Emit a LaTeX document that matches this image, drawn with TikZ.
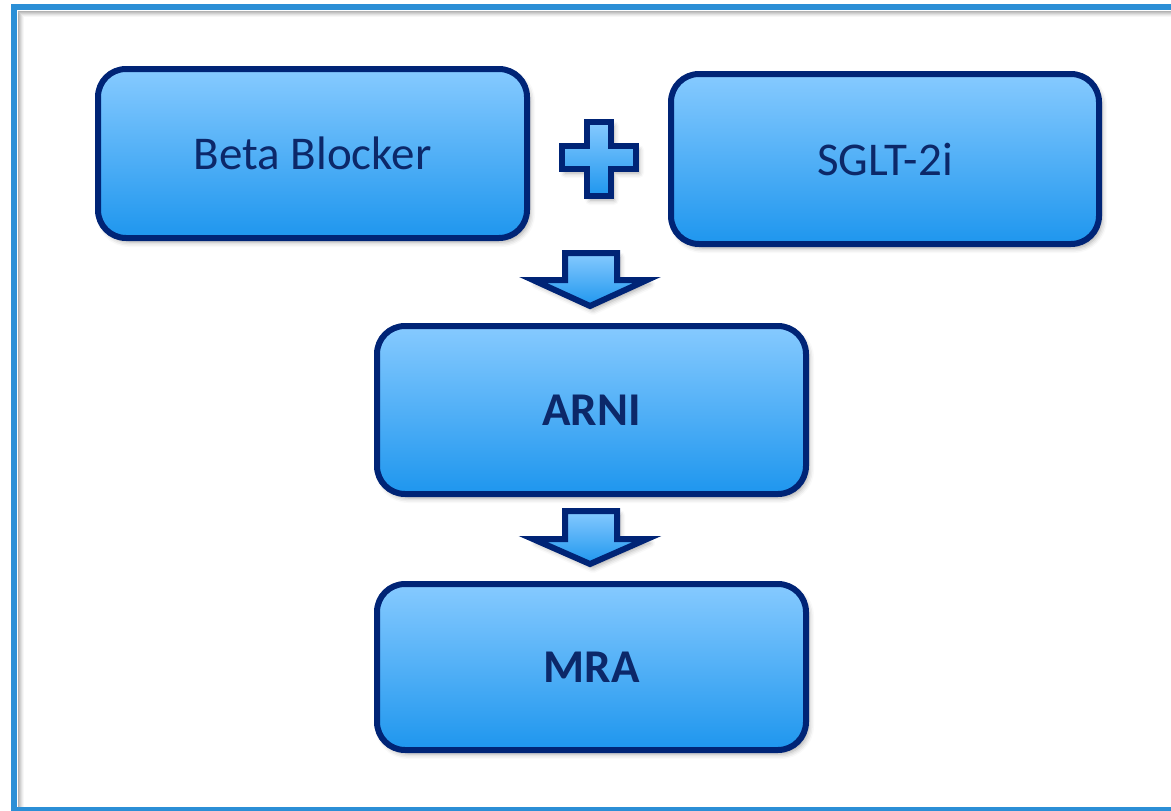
\documentclass[tikz,border=0pt]{standalone}
\usepackage{fontspec}
\setmainfont{Carlito}
\usetikzlibrary{shadows.blur}
\definecolor{frameblue}{RGB}{43,143,214}
\definecolor{navy}{RGB}{0,36,118}
\definecolor{textnavy}{RGB}{12,40,105}
\definecolor{filltop}{RGB}{134,202,255}
\definecolor{fillbot}{RGB}{30,150,238}
\tikzset{
  softshadow/.style={blur shadow={shadow xshift=3pt, shadow yshift=-4pt,
      shadow blur radius=5pt, shadow opacity=35}},
  drugbox/.style={draw=navy, line width=6pt, rounded corners=28pt,
      top color=filltop, bottom color=fillbot, softshadow,
      minimum width=429pt, minimum height=168pt, inner sep=0pt,
      text=textnavy, font=\fontsize{47}{56}\selectfont},
  blockshape/.style={draw=navy, line width=6pt, line join=miter,
      top color=filltop, bottom color=fillbot, softshadow},
}
\begin{document}
\begin{tikzpicture}[x=1pt, y=-1pt]
\useasboundingbox (0,0) rectangle (1171,811);
\clip (0,0) rectangle (1171,811);

% outer frame with its soft grey shadow
\foreach \d/\o in {1/0.30,2/0.24,3/0.18,4/0.12,5/0.07,6/0.03}{
  \draw[black, opacity=\o, line width=1pt]
    (17+\d,812) -- (17+\d,10+\d) -- (1175,10+\d);
}
\draw[frameblue, line width=6pt] (14,810) rectangle (1180,7);

% drug boxes
\node[drugbox, minimum height=169pt] (beta) at (312.5,153.5) {Beta Blocker};
\node[drugbox, minimum width=428pt, minimum height=170pt] (sglt) at (885,159) {SGLT-2i};
\node[drugbox] (arni) at (591.5,410) {\bfseries ARNI};
\node[drugbox, minimum height=166pt] (mra) at (591.5,667) {\bfseries MRA};

% plus sign between the first two boxes
\path[blockshape] (587,122) -- (611,122) -- (611,146) -- (636,146) -- (636,169)
  -- (611,169) -- (611,196) -- (587,196) -- (587,169) -- (562,169)
  -- (562,146) -- (587,146) -- cycle;

% block arrows leading down the sequence
\path[blockshape] (565,253) -- (617,253) -- (617,280) -- (647,280) -- (590,306)
  -- (533,280) -- (565,280) -- cycle;
\path[blockshape] (565,511) -- (617,511) -- (617,539) -- (647,539) -- (590,564)
  -- (533,539) -- (565,539) -- cycle;
\end{tikzpicture}
\end{document}
